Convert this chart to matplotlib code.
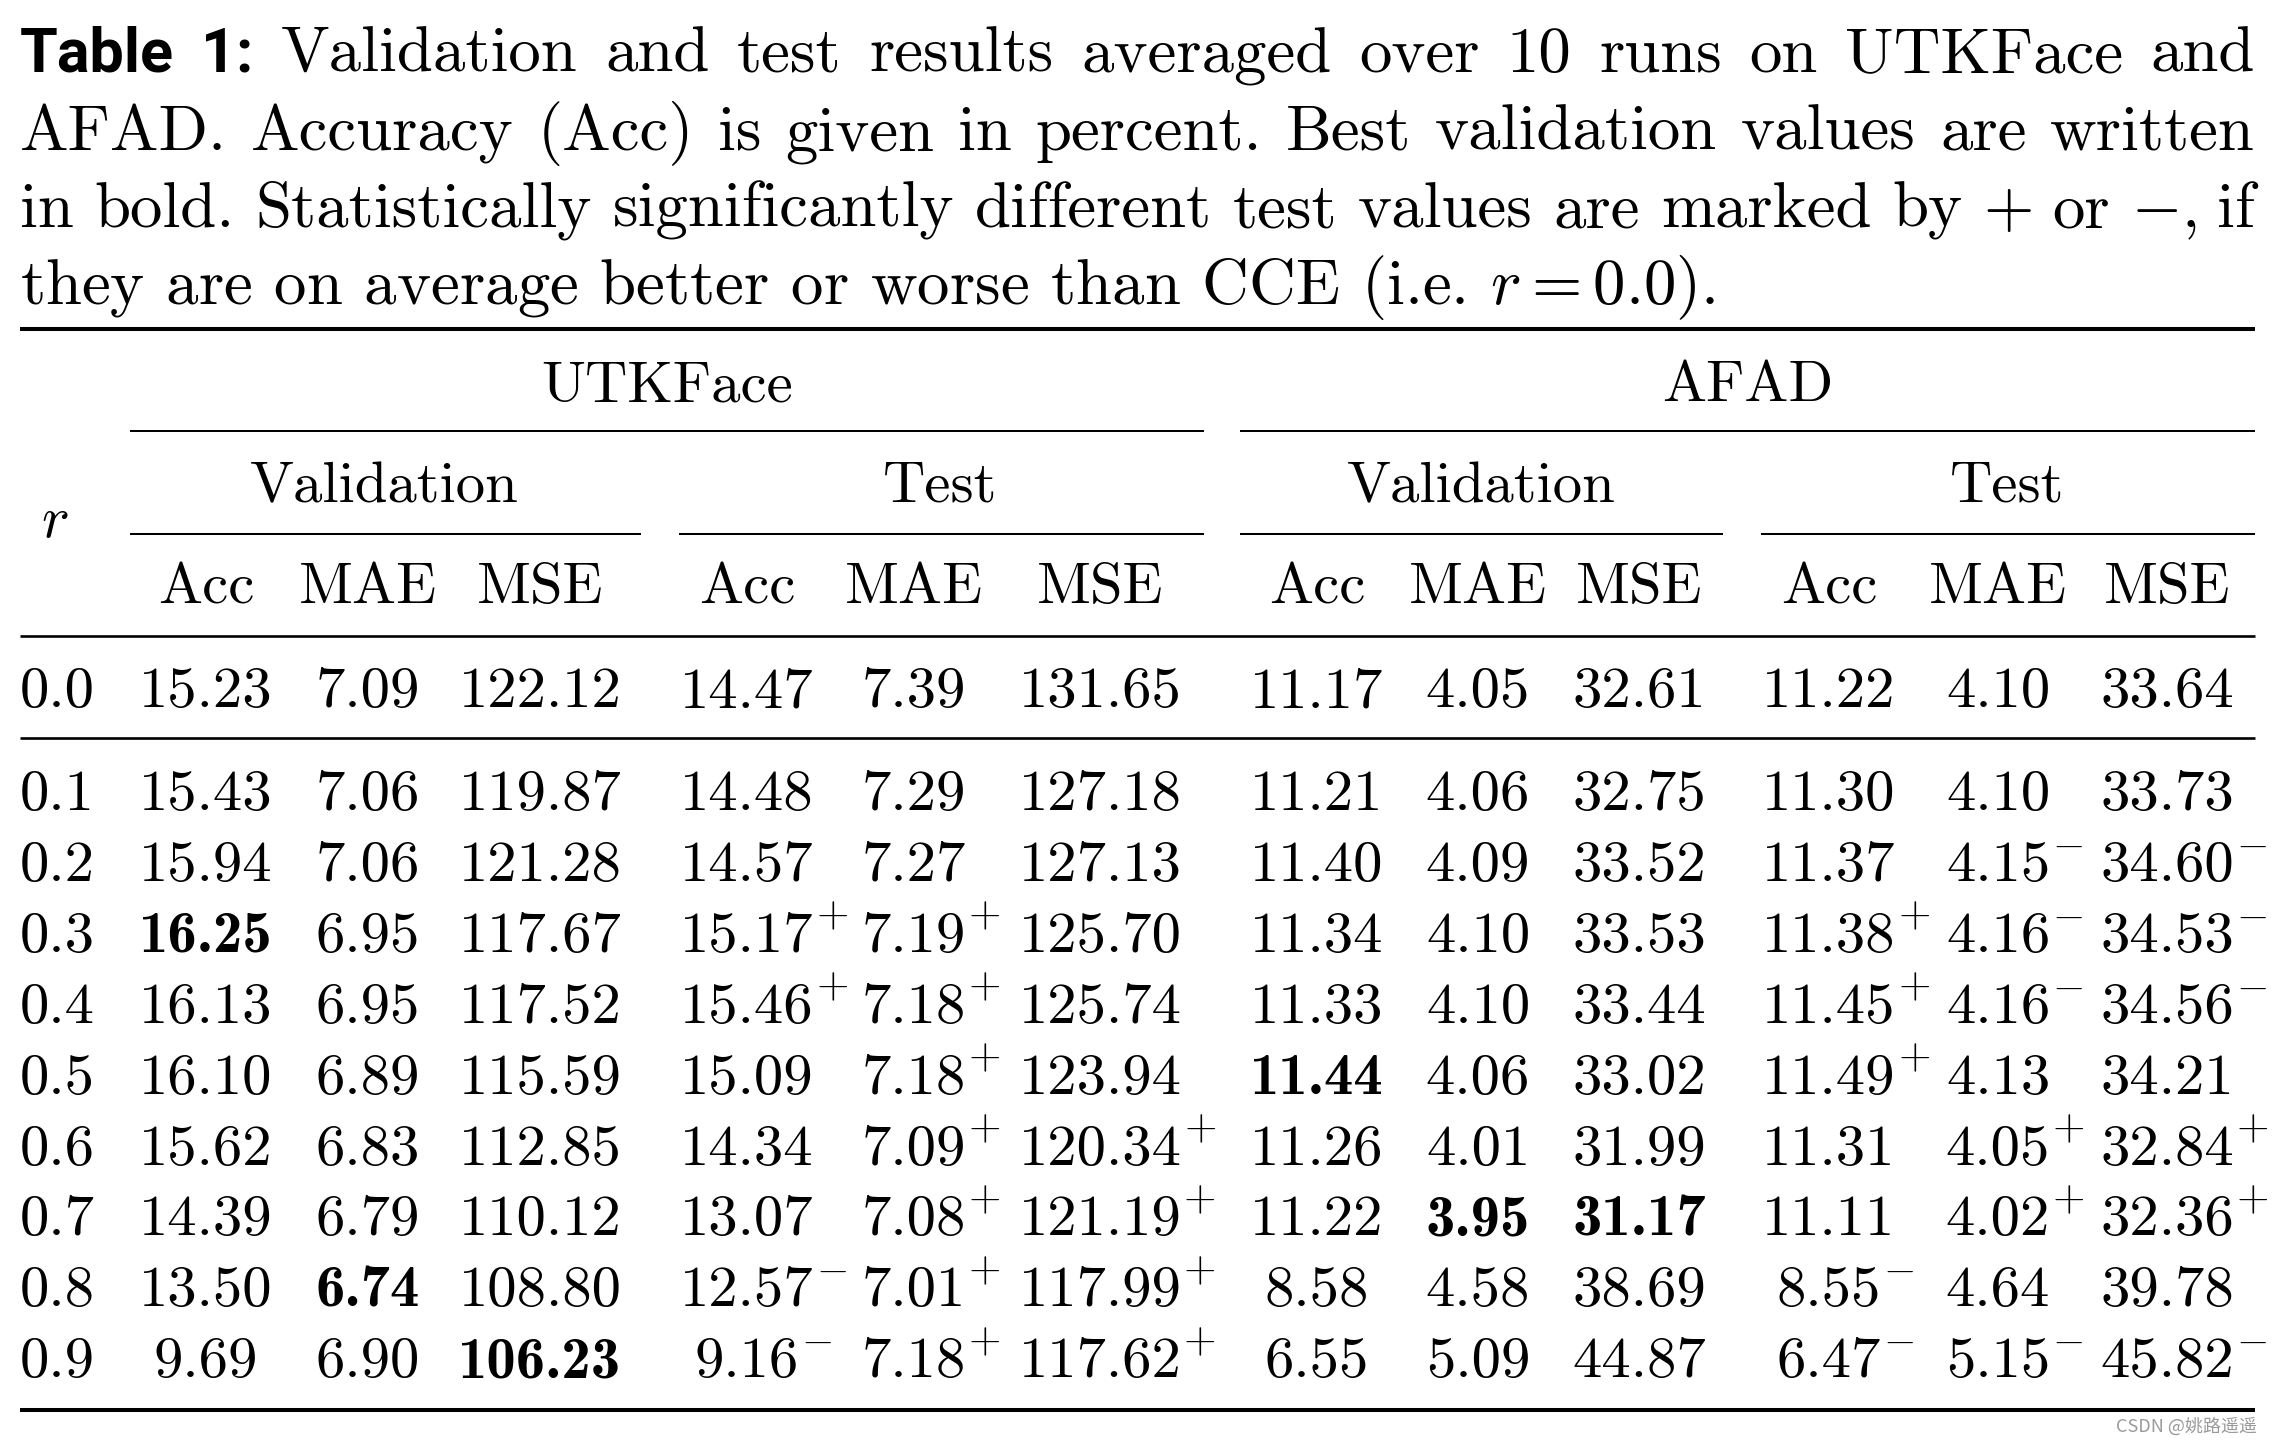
import matplotlib
matplotlib.use('Agg')
import matplotlib.pyplot as plt

plt.rcParams['font.family'] = ['cmr10', 'DejaVu Sans']
plt.rcParams['mathtext.fontset'] = 'cm'
plt.rcParams['axes.formatter.use_mathtext'] = True

# table data
r_values = [0.0, 0.1, 0.2, 0.3, 0.4, 0.5, 0.6, 0.7, 0.8, 0.9]

utk_val_acc = [15.23, 15.43, 15.94, 16.25, 16.13, 16.10, 15.62, 14.39, 13.50, 9.69]
utk_val_mae = [7.09, 7.06, 7.06, 6.95, 6.95, 6.89, 6.83, 6.79, 6.74, 6.90]
utk_val_mse = [122.12, 119.87, 121.28, 117.67, 117.52, 115.59, 112.85, 110.12, 108.80, 106.23]
utk_test_acc = [14.47, 14.48, 14.57, 15.17, 15.46, 15.09, 14.34, 13.07, 12.57, 9.16]
utk_test_mae = [7.39, 7.29, 7.27, 7.19, 7.18, 7.18, 7.09, 7.08, 7.01, 7.18]
utk_test_mse = [131.65, 127.18, 127.13, 125.70, 125.74, 123.94, 120.34, 121.19, 117.99, 117.62]
afad_val_acc = [11.17, 11.21, 11.40, 11.34, 11.33, 11.44, 11.26, 11.22, 8.58, 6.55]
afad_val_mae = [4.05, 4.06, 4.09, 4.10, 4.10, 4.06, 4.01, 3.95, 4.58, 5.09]
afad_val_mse = [32.61, 32.75, 33.52, 33.53, 33.44, 33.02, 31.99, 31.17, 38.69, 44.87]
afad_test_acc = [11.22, 11.30, 11.37, 11.38, 11.45, 11.49, 11.31, 11.11, 8.55, 6.47]
afad_test_mae = [4.10, 4.10, 4.15, 4.16, 4.16, 4.13, 4.05, 4.02, 4.64, 5.15]
afad_test_mse = [33.64, 33.73, 34.60, 34.53, 34.56, 34.21, 32.84, 32.36, 39.78, 45.82]

# significance marks on the test columns (+ better, - worse than CCE)
utk_test_acc_sig = ['', '', '', '+', '+', '', '', '', '-', '-']
utk_test_mae_sig = ['', '', '', '+', '+', '+', '+', '+', '+', '+']
utk_test_mse_sig = ['', '', '', '', '', '', '+', '+', '+', '+']
afad_test_acc_sig = ['', '', '', '+', '+', '+', '', '', '-', '-']
afad_test_mae_sig = ['', '', '-', '-', '-', '', '+', '+', '', '-']
afad_test_mse_sig = ['', '', '-', '-', '-', '', '+', '+', '', '-']

metrics = ['Acc', 'MAE', 'MSE']
datasets = ['UTKFace', 'AFAD']
splits = ['Validation', 'Test']

columns = [
    (utk_val_acc, None, 'max'), (utk_val_mae, None, 'min'), (utk_val_mse, None, 'min'),
    (utk_test_acc, utk_test_acc_sig, None), (utk_test_mae, utk_test_mae_sig, None),
    (utk_test_mse, utk_test_mse_sig, None),
    (afad_val_acc, None, 'max'), (afad_val_mae, None, 'min'), (afad_val_mse, None, 'min'),
    (afad_test_acc, afad_test_acc_sig, None), (afad_test_mae, afad_test_mae_sig, None),
    (afad_test_mse, afad_test_mse_sig, None),
]

caption = [
    ['Validation', 'and', 'test', 'results', 'averaged', 'over', '10', 'runs', 'on', 'UTKFace', 'and'],
    ['AFAD.', 'Accuracy', '(Acc)', 'is', 'given', 'in', 'percent.', 'Best', 'validation', 'values', 'are', 'written'],
    ['in', 'bold.', 'Statistically', 'significantly', 'different', 'test', 'values', 'are', 'marked', 'by',
     '$+$', 'or', '$-$,', 'if'],
]
caption_last = 'they are on average better or worse than CCE (i.e. $r=0.0$).'

fig = plt.figure(figsize=(22.74, 14.40), dpi=100)
ax = fig.add_axes([0, 0, 1, 1])
ax.set_xlim(0, 2274)
ax.set_ylim(1440, 0)
ax.axis('off')
renderer = fig.canvas.get_renderer()

CAP = 46.7
FS = 42.3
left, right = 20, 2255

# caption, justified
cap_y = [72, 150, 227, 304]
for i, words in enumerate(caption):
    texts = []
    if i == 0:
        for w in ['Table', '1:']:
            texts.append(ax.text(0, cap_y[i], w, fontsize=44, fontweight='bold',
                                 family=['Roboto', 'DejaVu Sans'], va='baseline'))
    for w in words:
        texts.append(ax.text(0, cap_y[i], w, fontsize=CAP, va='baseline'))
    widths = [t.get_window_extent(renderer).width for t in texts]
    gap = (right - left - sum(widths)) / (len(texts) - 1)
    x = left
    for t, w in zip(texts, widths):
        t.set_x(x)
        x += w + gap
ax.text(left, cap_y[3], caption_last, fontsize=CAP, va='baseline')

# rules
ax.hlines([329, 1410], left, right, color='black', lw=2.9)
ax.hlines([636, 738], left, right, color='black', lw=1.9)
ax.hlines([431, 431], [130, 1240], [1204, 2255], color='black', lw=1.45)
ax.hlines([534] * 4, [130, 679, 1240, 1761], [641, 1204, 1723, 2255], color='black', lw=1.45)

# headers
col_x = [206, 368, 540, 747, 914, 1100, 1317, 1478, 1639, 1829, 1998, 2167]
ds_x = [667, 1748]
split_x = [384, 940, 1481, 2007]
for d, x in zip(datasets, ds_x):
    ax.text(x, 401, d, fontsize=FS, ha='center', va='baseline')
for j, x in enumerate(split_x):
    ax.text(x, 502, splits[j % 2], fontsize=FS, ha='center', va='baseline')
for j, x in enumerate(col_x):
    ax.text(x, 603, metrics[j % 3], fontsize=FS, ha='center', va='baseline')
ax.text(55, 537, '$r$', fontsize=FS, ha='center', va='baseline')

# body
row_y = [707] + [810 + 70.9 * k for k in range(9)]
for i, r in enumerate(r_values):
    ax.text(left, row_y[i], f'{r:.1f}', fontsize=FS, va='baseline')
for x, (vals, sig, best) in zip(col_x, columns):
    best_i = None
    if best == 'max':
        best_i = vals.index(max(vals))
    elif best == 'min':
        best_i = vals.index(min(vals))
    for i, v in enumerate(vals):
        fam = ['cmb10'] if i == best_i else ['cmr10']
        t = ax.text(x, row_y[i], f'{v:.2f}', fontsize=FS, family=fam, ha='center', va='baseline')
        if sig and sig[i]:
            bb = t.get_window_extent(renderer)
            ax.text(x + bb.width / 2 + 2, row_y[i] - 25, '$' + sig[i] + '$', fontsize=30,
                    ha='left', va='baseline')

ax.text(2257, 1427, 'CSDN @姚路遥遥', fontsize=13, color='#9a9a9a', ha='right', va='center',
        family=['Noto Sans CJK SC', 'DejaVu Sans'])

fig.savefig('out.png', dpi=100, facecolor='white')
